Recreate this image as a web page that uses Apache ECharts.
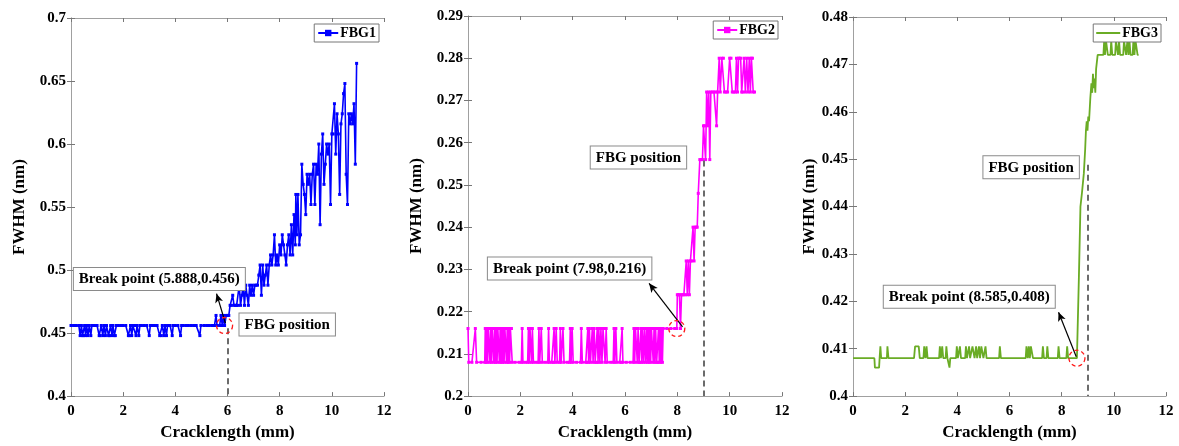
<!DOCTYPE html>
<html><head><meta charset="utf-8">
<script src="https://cdn.jsdelivr.net/npm/echarts@6/dist/echarts.min.js"></script>
<style>html,body{margin:0;padding:0;background:#fff}#c{width:1179px;height:446px}</style>
</head><body><div id="c"></div>
<script>
// ---------- data ----------
const seriesNames = ['FBG1', 'FBG2', 'FBG3'];
const seriesColors = ['#0000ff', '#ff00ff', '#6aac25'];
const xRange = [0, 12, 2];
const yRanges = [[0.4, 0.7, 0.05], [0.2, 0.29, 0.01], [0.4, 0.48, 0.01]];
const breakPoints = [[5.888, 0.456], [7.98, 0.216], [8.585, 0.408]];
const breakLabels = ['Break point (5.888,0.456)', 'Break point (7.98,0.216)', 'Break point (8.585,0.408)'];
const fbgPositions = [6, 9, 9];
const fbgLabel = 'FBG position';

const fbg1 = [
[0,0.456],[0.1,0.456],[0.2,0.456],[0.3,0.456],[0.35,0.448],[0.4,0.456],[0.44,0.448],[0.48,0.448],[0.52,0.456],[0.56,0.448],[0.6,0.456],[0.65,0.448],[0.7,0.456],[0.76,0.448],[0.8,0.456],[0.9,0.456],[1.0,0.456],
[1.08,0.448],[1.12,0.448],[1.16,0.456],[1.22,0.448],[1.26,0.456],[1.32,0.448],[1.36,0.456],[1.44,0.448],[1.48,0.448],[1.52,0.456],[1.57,0.448],[1.61,0.456],[1.66,0.448],[1.7,0.448],[1.74,0.456],[1.8,0.456],[1.9,0.456],[2.0,0.456],[2.1,0.456],
[2.2,0.448],[2.24,0.448],[2.28,0.456],[2.33,0.448],[2.37,0.456],[2.44,0.456],[2.49,0.448],[2.53,0.456],[2.6,0.448],[2.64,0.456],[2.7,0.456],[2.8,0.456],[2.9,0.456],[3.0,0.448],[3.04,0.456],[3.1,0.456],[3.2,0.456],[3.3,0.456],
[3.4,0.448],[3.46,0.448],[3.5,0.456],[3.56,0.448],[3.6,0.456],[3.66,0.448],[3.7,0.456],[3.8,0.456],[3.88,0.448],[3.92,0.456],[4.0,0.456],[4.1,0.456],[4.2,0.448],[4.24,0.456],[4.3,0.456],[4.4,0.456],[4.5,0.456],[4.6,0.456],[4.7,0.456],[4.8,0.456],
[4.94,0.448],[4.98,0.456],[5.1,0.456],[5.2,0.456],[5.3,0.456],[5.4,0.456],[5.5,0.456],[5.56,0.464],[5.6,0.456],[5.7,0.456],[5.75,0.464],[5.8,0.456],[5.85,0.464],[5.888,0.456],[5.95,0.464],[6.0,0.464],[6.05,0.464],
[6.1,0.472],[6.15,0.472],[6.2,0.48],[6.25,0.472],[6.3,0.472],[6.35,0.472],[6.4,0.472],[6.45,0.488],[6.5,0.472],[6.55,0.48],[6.6,0.488],[6.65,0.472],[6.7,0.488],[6.75,0.48],[6.8,0.472],[6.85,0.488],[6.9,0.48],[6.95,0.488],
[7.0,0.48],[7.05,0.488],[7.1,0.488],[7.15,0.488],[7.2,0.496],[7.25,0.504],[7.3,0.48],[7.35,0.504],[7.4,0.488],[7.45,0.496],[7.5,0.504],[7.55,0.488],[7.6,0.504],[7.65,0.512],[7.7,0.504],[7.75,0.512],[7.8,0.528],[7.85,0.504],
[7.9,0.512],[7.95,0.504],[8.0,0.52],[8.05,0.512],[8.1,0.528],[8.15,0.52],[8.2,0.512],[8.25,0.504],[8.3,0.52],[8.35,0.528],[8.4,0.512],[8.45,0.536],[8.5,0.512],[8.55,0.544],[8.6,0.52],[8.62,0.56],[8.66,0.528],[8.7,0.56],
[8.75,0.52],[8.8,0.528],[8.85,0.584],[8.9,0.568],[8.95,0.56],[9.0,0.544],[9.05,0.576],[9.1,0.568],[9.15,0.576],[9.2,0.552],[9.25,0.576],[9.3,0.584],[9.35,0.552],[9.4,0.584],[9.45,0.576],[9.5,0.6],[9.55,0.536],[9.6,0.592],
[9.65,0.608],[9.7,0.568],[9.75,0.584],[9.8,0.6],[9.85,0.592],[9.9,0.6],[9.95,0.552],[10.0,0.608],[10.05,0.608],[10.1,0.632],[10.15,0.592],[10.2,0.624],[10.25,0.608],[10.3,0.56],[10.35,0.616],[10.4,0.624],[10.45,0.64],
[10.5,0.648],[10.55,0.576],[10.6,0.552],[10.65,0.624],[10.7,0.616],[10.75,0.624],[10.8,0.616],[10.85,0.632],[10.9,0.584],[10.95,0.664]
];

const fbg2 = [
[0,0.216],[0.03,0.208],[0.15,0.208],[0.28,0.216],[0.33,0.208],[0.5,0.208],[0.64,0.208],
[0.66,0.216],[0.69,0.208],[0.72,0.216],[0.75,0.208],[0.78,0.216],[0.81,0.216],[0.84,0.208],[0.87,0.216],[0.9,0.208],[0.93,0.216],[0.96,0.216],[0.99,0.208],[1.02,0.216],[1.05,0.208],[1.08,0.216],[1.11,0.208],[1.14,0.216],
[1.17,0.216],[1.2,0.208],[1.23,0.216],[1.26,0.208],[1.29,0.216],[1.32,0.208],[1.35,0.216],[1.38,0.208],[1.41,0.216],[1.44,0.216],[1.47,0.208],[1.5,0.216],[1.53,0.208],[1.56,0.216],[1.59,0.208],[1.62,0.216],[1.66,0.216],[1.69,0.208],
[1.8,0.208],[1.95,0.208],[2.04,0.208],[2.07,0.216],[2.1,0.208],[2.2,0.208],[2.28,0.208],[2.31,0.216],[2.34,0.208],[2.37,0.216],[2.4,0.216],[2.43,0.208],[2.46,0.216],[2.5,0.208],[2.6,0.208],[2.68,0.208],[2.71,0.216],[2.74,0.208],
[2.8,0.216],[2.84,0.208],[2.95,0.208],[3.05,0.208],[3.08,0.216],[3.11,0.208],[3.2,0.208],[3.26,0.208],[3.29,0.216],[3.32,0.208],[3.37,0.216],[3.41,0.208],[3.5,0.208],[3.53,0.216],[3.56,0.208],[3.63,0.216],[3.67,0.208],
[3.8,0.208],[3.88,0.208],[3.91,0.216],[3.94,0.208],[3.98,0.216],[4.02,0.208],[4.15,0.208],[4.3,0.208],[4.33,0.216],[4.37,0.208],[4.5,0.208],[4.55,0.208],[4.58,0.216],[4.61,0.208],[4.64,0.216],[4.68,0.208],[4.75,0.216],
[4.78,0.208],[4.82,0.216],[4.86,0.208],[4.91,0.208],[4.94,0.216],[4.97,0.208],[5.0,0.216],[5.04,0.208],[5.08,0.216],[5.12,0.208],[5.16,0.216],[5.2,0.216],[5.24,0.208],[5.28,0.216],[5.32,0.208],[5.45,0.208],[5.55,0.208],
[5.58,0.216],[5.61,0.208],[5.65,0.216],[5.69,0.208],[5.8,0.208],[5.86,0.208],[5.89,0.216],[5.92,0.208],[6.05,0.208],[6.2,0.208],[6.31,0.208],[6.34,0.216],[6.37,0.208],[6.4,0.216],[6.44,0.216],[6.47,0.208],[6.5,0.216],
[6.54,0.208],[6.58,0.208],[6.61,0.216],[6.64,0.208],[6.67,0.216],[6.71,0.208],[6.75,0.216],[6.79,0.208],[6.83,0.216],[6.86,0.208],[6.89,0.216],[6.92,0.208],[6.95,0.216],[6.98,0.208],[7.01,0.216],[7.05,0.216],[7.08,0.208],
[7.11,0.216],[7.14,0.208],[7.17,0.216],[7.21,0.208],[7.25,0.208],[7.28,0.216],[7.31,0.208],[7.34,0.216],[7.37,0.208],[7.4,0.216],[7.43,0.208],[7.46,0.216],[7.6,0.216],[7.75,0.216],[7.9,0.216],[7.98,0.216],
[8.0,0.224],[8.04,0.224],[8.08,0.224],[8.12,0.216],[8.16,0.224],[8.2,0.224],[8.25,0.224],[8.3,0.224],[8.34,0.232],[8.38,0.224],[8.42,0.232],[8.46,0.224],[8.5,0.232],[8.55,0.232],[8.6,0.24],[8.64,0.232],[8.68,0.24],
[8.72,0.24],[8.76,0.24],[8.8,0.248],[8.86,0.256],[8.92,0.256],[8.96,0.256],[9.0,0.264],[9.04,0.264],[9.08,0.256],[9.12,0.272],[9.16,0.264],[9.2,0.272],[9.24,0.256],[9.28,0.272],[9.34,0.272],[9.4,0.272],[9.46,0.272],
[9.5,0.264],[9.54,0.272],[9.6,0.28],[9.64,0.272],[9.7,0.28],[9.76,0.28],[9.8,0.272],[9.86,0.272],[9.92,0.272],[10.0,0.28],[10.05,0.28],[10.1,0.272],[10.16,0.272],[10.22,0.272],[10.26,0.28],[10.3,0.272],[10.34,0.28],
[10.38,0.28],[10.42,0.28],[10.46,0.272],[10.5,0.272],[10.55,0.28],[10.6,0.272],[10.65,0.28],[10.7,0.272],[10.75,0.28],[10.79,0.272],[10.83,0.28],[10.87,0.28],[10.9,0.272],[10.95,0.272]
];

const fbg3 = [
[0,0.408],[0.82,0.408],[0.84,0.406],[1.0,0.406],[1.02,0.408],[1.05,0.4105],[1.08,0.408],[1.3,0.408],[1.32,0.4105],[1.36,0.408],[2.34,0.408],[2.38,0.4105],[2.52,0.4105],[2.56,0.408],[2.7,0.408],[2.73,0.4105],
[2.78,0.408],[2.82,0.4105],[2.86,0.408],[3.3,0.408],[3.33,0.4105],[3.37,0.408],[3.42,0.4105],[3.46,0.408],[3.55,0.408],[3.58,0.4105],[3.62,0.408],[3.68,0.408],[3.7,0.406],[3.73,0.408],[3.95,0.408],[3.98,0.4105],
[4.02,0.408],[4.1,0.4105],[4.14,0.408],[4.3,0.408],[4.33,0.4105],[4.37,0.408],[4.45,0.4105],[4.49,0.408],[4.58,0.4105],[4.62,0.4105],[4.66,0.408],[4.72,0.4105],[4.76,0.408],[4.83,0.4105],[4.87,0.408],[4.92,0.4105],
[4.96,0.4105],[5.0,0.408],[5.08,0.4105],[5.12,0.408],[5.6,0.408],[5.63,0.4105],[5.67,0.408],[6.62,0.408],[6.65,0.4105],[6.7,0.408],[6.74,0.4105],[6.78,0.408],[6.82,0.4105],[6.86,0.4105],[6.9,0.408],[7.25,0.408],
[7.28,0.4105],[7.32,0.408],[7.42,0.408],[7.45,0.4105],[7.49,0.408],[7.85,0.408],[7.88,0.4105],[7.92,0.408],[8.18,0.408],[8.21,0.4105],[8.25,0.408],[8.585,0.408],[8.66,0.425],[8.72,0.44],[8.78,0.443],[8.85,0.447],
[8.9,0.452],[8.93,0.456],[8.96,0.458],[8.99,0.456],[9.02,0.459],[9.05,0.458],[9.1,0.463],[9.14,0.466],[9.17,0.464],[9.2,0.468],[9.23,0.465],[9.26,0.467],[9.29,0.464],[9.32,0.469],[9.38,0.472],[9.6,0.472],[9.63,0.475],
[9.66,0.472],[9.7,0.475],[9.74,0.475],[9.77,0.472],[9.87,0.472],[9.9,0.475],[9.94,0.472],[10.05,0.472],[10.08,0.475],[10.12,0.475],[10.16,0.472],[10.2,0.475],[10.24,0.472],[10.36,0.472],[10.39,0.475],[10.43,0.475],
[10.47,0.472],[10.52,0.475],[10.56,0.472],[10.6,0.475],[10.64,0.472],[10.72,0.472],[10.75,0.475],[10.79,0.472],[10.83,0.475],[10.87,0.475],[10.91,0.472],[10.95,0.472]
];
const seriesData = [fbg1, fbg2, fbg3];

// ---------- layout ----------
const FONT = '"Liberation Serif", "Times New Roman", serif';
const grids = [
  {left: 71, top: 18, width: 313, height: 384},
  {left: 468, top: 16, width: 314, height: 384},
  {left: 853, top: 17, width: 313, height: 384}
];
const yNameGaps = [43, 43, 34];
const legendRight = [800, 401, 18];
const legendTop = [24, 21, 24];
// annotation anchors (data coords) -- layout only
const arrowFrom = [[5.92, 0.4578], [8.2, 0.2164], [8.56, 0.4083]];
const arrowTo = [[5.58, 0.4813], [6.92, 0.2267], [7.88, 0.4177]];
const breakBoxAt = [[0.11, 0.5016], [0.76, 0.2328], [1.18, 0.4233]];
const posBoxAt = [[6.46, 0.4656], [4.69, 0.2591], [5.0, 0.4506]];
const dashTop = [0.4539, 0.2558, 0.4488];

const axisLineStyle = {color: '#a0a0a0', width: 1};
const tickStyle = {show: true, inside: true, length: 4, lineStyle: {color: '#777'}};
const labelStyle = {color: '#000', fontFamily: FONT, fontWeight: 'bold', fontSize: 15};
const nameStyle = {color: '#000', fontFamily: FONT, fontWeight: 'bold', fontSize: 17};

const xAxes = [], yAxes = [], series = [], legends = [];
grids.forEach((g, i) => {
  const [ymin, ymax, yint] = yRanges[i];
  xAxes.push({type: 'value', gridIndex: i, min: xRange[0], max: xRange[1], interval: xRange[2], position: 'bottom',
    axisLine: {show: true, lineStyle: axisLineStyle}, axisTick: tickStyle, splitLine: {show: false},
    axisLabel: Object.assign({margin: 8}, labelStyle),
    name: 'Cracklength (mm)', nameLocation: 'middle', nameGap: 25, nameTextStyle: nameStyle});
  xAxes.push({type: 'value', gridIndex: i, min: xRange[0], max: xRange[1], interval: xRange[2], position: 'top',
    axisLine: {show: true, lineStyle: axisLineStyle}, axisTick: tickStyle, splitLine: {show: false}, axisLabel: {show: false}});
  yAxes.push({type: 'value', gridIndex: i, min: ymin, max: ymax, interval: yint, position: 'left',
    axisLine: {show: true, lineStyle: axisLineStyle}, axisTick: tickStyle, splitLine: {show: false},
    axisLabel: Object.assign({margin: 5}, labelStyle),
    name: 'FWHM (nm)', nameLocation: 'middle', nameGap: yNameGaps[i], nameTextStyle: nameStyle});
  yAxes.push({type: 'value', gridIndex: i, min: ymin, max: ymax, interval: yint, position: 'right',
    axisLine: {show: true, lineStyle: axisLineStyle}, axisTick: tickStyle, splitLine: {show: false}, axisLabel: {show: false}});
  const withMarker = i < 2;
  series.push({
    name: seriesNames[i], type: 'line', xAxisIndex: 2 * i, yAxisIndex: 2 * i,
    data: seriesData[i], color: seriesColors[i],
    symbol: withMarker ? 'rect' : 'none', symbolSize: 3, showSymbol: withMarker,
    lineStyle: {width: withMarker ? 1.6 : 1.8, color: seriesColors[i]},
    itemStyle: {color: seriesColors[i]},
    z: 2,
    markLine: {
      silent: true, animation: false, label: {show: false},
      data: [
        [{coord: [fbgPositions[i], dashTop[i]], symbol: 'none', lineStyle: {type: [6, 4], color: '#6b6b6b', width: 2}},
         {coord: [fbgPositions[i], ymin], symbol: 'none'}],
        [{coord: arrowFrom[i], symbol: 'none', lineStyle: {type: 'solid', color: '#000', width: 1.2}},
         {coord: arrowTo[i], symbol: 'arrow', symbolSize: [6, 9]}]
      ]
    }
  });
  const leg = {
    data: [seriesNames[i]], right: legendRight[i], top: legendTop[i], orient: 'horizontal',
    backgroundColor: '#fff', borderColor: '#777', borderWidth: 1, borderRadius: 0, padding: [2, 3, 2, 3],
    itemWidth: 20, itemHeight: 8, itemGap: 2,
    textStyle: {color: '#000', fontFamily: FONT, fontWeight: 'bold', fontSize: 14, padding: [0, 0, 0, -3]}
  };
  if (!withMarker) { leg.icon = 'rect'; leg.itemHeight = 2; leg.itemWidth = 24; }
  legends.push(leg);
});

const chart = echarts.init(document.getElementById('c'), null, {renderer: 'canvas'});
chart.setOption({
  animation: false, backgroundColor: '#fff',
  grid: grids, xAxis: xAxes, yAxis: yAxes, series: series, legend: legends
});

// annotation boxes and break-point circles positioned with the chart's own scales
const graphics = [];
grids.forEach((g, i) => {
  const c = chart.convertToPixel({gridIndex: i}, breakPoints[i]);
  graphics.push({type: 'circle', shape: {cx: c[0], cy: c[1], r: 8}, z: 10,
    style: {fill: 'none', stroke: '#ff1a1a', lineWidth: 1.3, lineDash: [4, 3]}});
  const b = chart.convertToPixel({gridIndex: i}, breakBoxAt[i]);
  graphics.push({type: 'text', x: b[0], y: b[1], z: 11,
    style: {text: breakLabels[i], font: 'bold 15px ' + FONT, fill: '#000', align: 'left', verticalAlign: 'top',
      backgroundColor: '#fff', borderColor: '#8a8a8a', borderWidth: 1, padding: [4, 5, 3, 5]}});
  const p = chart.convertToPixel({gridIndex: i}, posBoxAt[i]);
  graphics.push({type: 'text', x: p[0], y: p[1], z: 11,
    style: {text: fbgLabel, font: 'bold 15px ' + FONT, fill: '#000', align: 'left', verticalAlign: 'top',
      backgroundColor: '#fff', borderColor: '#8a8a8a', borderWidth: 1, padding: [4, 5, 3, 5]}});
});
chart.setOption({graphic: graphics});
</script></body></html>
